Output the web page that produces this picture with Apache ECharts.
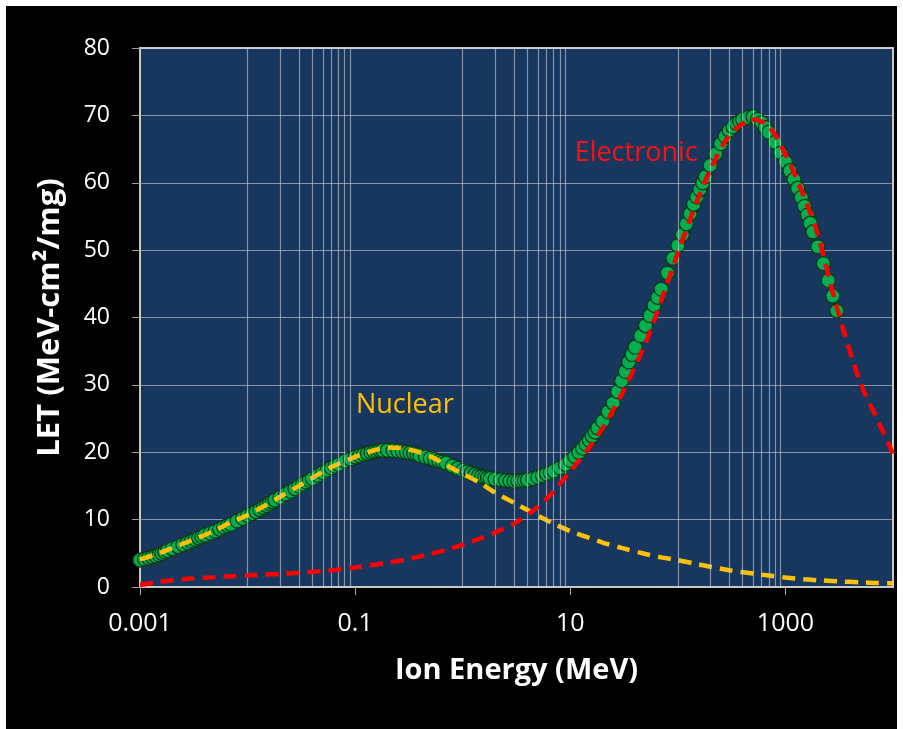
<!DOCTYPE html>
<html>
<head>
<meta charset="utf-8">
<script src="https://cdn.jsdelivr.net/npm/echarts@6/dist/echarts.min.js"></script>
<style>
  html, body { margin: 0; padding: 0; background: #ffffff; }
  #frame { position: absolute; left: 6px; top: 6px; width: 891px; height: 723px; background: #000000; }
  #chart { position: absolute; left: 0; top: 0; width: 903px; height: 729px; }
</style>
</head>
<body>
<div id="frame"></div>
<div id="chart"></div>
<script>
// ---- Data ----
// Total LET (green circles)
const totalEnergy = [
  0.001, 0.0011, 0.0012, 0.0013, 0.0014, 0.0015, 0.0016, 0.0017, 0.0018, 0.002, 0.00225, 0.0025, 0.00275, 0.003, 0.00325, 0.0035, 0.00375, 0.004, 0.0045, 0.005, 0.0055, 0.006, 0.0065, 0.007, 0.008, 0.009,
  0.01, 0.011, 0.012, 0.013, 0.014, 0.015, 0.016, 0.017, 0.018, 0.02, 0.0225, 0.025, 0.0275, 0.03, 0.0325, 0.035, 0.0375, 0.04, 0.045, 0.05, 0.055, 0.06, 0.065, 0.07, 0.08, 0.09,
  0.1, 0.11, 0.12, 0.13, 0.14, 0.15, 0.16, 0.17, 0.18, 0.2, 0.225, 0.25, 0.275, 0.3, 0.325, 0.35, 0.375, 0.4, 0.45, 0.5, 0.55, 0.6, 0.65, 0.7, 0.8, 0.9,
  1, 1.1, 1.2, 1.3, 1.4, 1.5, 1.6, 1.7, 1.8, 2, 2.25, 2.5, 2.75, 3, 3.25, 3.5, 3.75, 4, 4.5, 5, 5.5, 6, 6.5, 7, 8, 9,
  10, 11, 12, 13, 14, 15, 16, 17, 18, 20, 22.5, 25, 27.5, 30, 32.5, 35, 37.5, 40, 45, 50, 55, 60, 65, 70, 80, 90,
  100, 110, 120, 130, 140, 150, 160, 170, 180, 200, 225, 250, 275, 300, 325, 350, 375, 400, 450, 500, 550, 600, 650, 700, 800, 900,
  1000, 1100, 1200, 1300, 1400, 1500, 1600, 1700, 1800, 2000, 2250, 2500, 2750, 3000
];
const totalLET = [
  4.0, 4.15, 4.3, 4.45, 4.6, 4.8, 5.0, 5.2, 5.4, 5.7, 6.0, 6.3, 6.55, 6.8, 7.05, 7.3, 7.5, 7.7, 8.0, 8.3, 8.6, 8.9, 9.1, 9.3, 9.8, 10.2,
  10.6, 10.9, 11.2, 11.5, 11.8, 12.1, 12.4, 12.65, 12.9, 13.3, 13.8, 14.2, 14.6, 15.0, 15.3, 15.6, 15.85, 16.1, 16.6, 17.0, 17.35, 17.7, 17.95, 18.2, 18.7, 19.0,
  19.3, 19.5, 19.7, 19.85, 20.0, 20.1, 20.2, 20.25, 20.3, 20.3, 20.25, 20.2, 20.1, 20.0, 19.9, 19.8, 19.65, 19.5, 19.3, 19.1, 18.9, 18.7, 18.55, 18.4, 17.95, 17.6,
  17.3, 17.1, 16.9, 16.7, 16.5, 16.4, 16.3, 16.2, 16.1, 16.0, 15.9, 15.8, 15.75, 15.7, 15.75, 15.8, 15.85, 15.9, 16.1, 16.3, 16.55, 16.8, 17.0, 17.2, 17.7, 18.2,
  18.8, 19.4, 20.0, 20.6, 21.2, 21.8, 22.4, 23.0, 23.6, 24.6, 26.0, 27.3, 29.0, 30.6, 32.0, 33.4, 34.5, 35.6, 37.3, 38.8, 40.3, 41.8, 43.0, 44.2, 46.6, 48.8,
  50.7, 52.3, 53.9, 55.4, 56.8, 57.9, 59.0, 60.0, 60.9, 62.6, 64.3, 65.8, 66.9, 67.8, 68.3, 68.8, 69.1, 69.4, 69.7, 69.8, 69.4, 68.9, 68.2, 67.5, 66.0, 64.4,
  63.1, 61.8, 60.5, 59.2, 57.8, 56.5, 55.2, 54.0, 52.7, 50.5, 48.0, 45.5, 43.2, 41.0
];
// Nuclear LET (gold dashed)
const nuclearEnergy = [0.001, 0.0015, 0.002, 0.003, 0.005, 0.007, 0.01, 0.015, 0.02, 0.03, 0.05, 0.07, 0.1, 0.15, 0.2, 0.3, 0.5, 0.7, 1, 1.5, 2, 3, 5, 7, 10, 15, 20, 30, 50, 70, 100, 150, 200, 300, 500, 700, 1000, 1500, 2000, 3000, 5000, 7000, 10000];
const nuclearLET    = [4.1, 5.0, 5.8, 6.9, 8.4, 9.6, 10.7, 12.2, 13.4, 15.0, 17.1, 18.3, 19.3, 20.3, 20.7, 20.5, 19.4, 18.1, 16.8, 15.3, 14.0, 12.5, 10.6, 9.4, 8.3, 7.3, 6.6, 5.8, 4.9, 4.4, 4.0, 3.4, 3.0, 2.5, 2.0, 1.7, 1.4, 1.15, 1.0, 0.85, 0.7, 0.6, 0.55];
// Electronic LET (red dashed)
const electronicEnergy = [0.001, 0.0015, 0.002, 0.003, 0.005, 0.007, 0.01, 0.015, 0.02, 0.03, 0.05, 0.07, 0.1, 0.15, 0.2, 0.3, 0.5, 0.7, 1, 1.5, 2, 3, 5, 7, 10, 15, 20, 30, 50, 70, 100, 150, 200, 300, 500, 700, 1000, 1500, 2000, 3000, 5000, 7000, 10000];
const electronicLET    = [0.3, 0.75, 1.0, 1.25, 1.45, 1.6, 1.7, 1.85, 1.95, 2.1, 2.35, 2.6, 2.9, 3.3, 3.6, 4.1, 4.9, 5.5, 6.3, 7.3, 8.1, 9.4, 11.9, 14.2, 17.2, 20.7, 23.6, 28.6, 36.2, 42.5, 49.6, 57.2, 61.9, 67.0, 69.4, 68.4, 64.2, 57.8, 52.3, 41.5, 30.2, 25.2, 19.8];

// Axis ticks / labels
const xTickValues = [0.001, 0.1, 10, 1000];
const xGridValues = [0.01, 0.02, 0.03, 0.04, 0.05, 0.06, 0.07, 0.08, 0.09,
                     1, 2, 3, 4, 5, 6, 7, 8, 9,
                     100, 200, 300, 400, 500, 600, 700, 800, 900];
const yMin = 0, yMax = 80, yStep = 10;

// Annotations: [text, energy, LET]
const nuclearLabel = ['Nuclear', 0.29, 27.0];
const electronicLabel = ['Electronic', 41, 64.3];

const zip = (xs, ys) => xs.map((x, i) => [x, ys[i]]);

const FONT = '"Open Sans", "DejaVu Sans", sans-serif';
const gridColor = 'rgba(205,210,220,0.6)';

const chart = echarts.init(document.getElementById('chart'), null, { renderer: 'canvas' });
chart.setOption({
  backgroundColor: 'transparent',
  animation: false,
  grid: {
    left: 140, right: 10, top: 48, bottom: 142,
    show: true, backgroundColor: '#17375e', borderColor: '#c8c8c8', borderWidth: 2
  },
  xAxis: {
    type: 'log', logBase: 10, min: 0.001, max: 10000,
    name: 'Ion Energy (MeV)', nameLocation: 'middle', nameGap: 69,
    nameTextStyle: { color: '#ffffff', fontFamily: FONT, fontSize: 29, fontWeight: 'bold' },
    axisLine: { show: true, lineStyle: { color: '#c8c8c8', width: 2 } },
    axisTick: { show: true, inside: false, length: 8, lineStyle: { color: '#a0a0a0', width: 1 }, customValues: xTickValues },
    axisLabel: {
      color: '#ffffff', fontFamily: FONT, fontSize: 25, margin: 24,
      customValues: xTickValues,
      formatter: v => String(+Number(v).toPrecision(6))
    },
    splitLine: { show: false },
    minorTick: { show: false }, minorSplitLine: { show: false }
  },
  yAxis: {
    type: 'value', min: yMin, max: yMax, interval: yStep,
    name: 'LET (MeV-cm²/mg)', nameLocation: 'middle', nameGap: 74,
    nameTextStyle: { color: '#ffffff', fontFamily: FONT, fontSize: 31, fontWeight: 'bold' },
    axisLine: { show: true, lineStyle: { color: '#c8c8c8', width: 2 } },
    axisTick: { show: true, inside: false, length: 8, lineStyle: { color: '#a0a0a0', width: 1 } },
    axisLabel: { color: '#ffffff', fontFamily: FONT, fontSize: 23, margin: 30 },
    splitLine: { show: true, lineStyle: { color: gridColor, width: 1.2 } }
  },
  series: [
    {
      name: 'grid', type: 'line', data: [], z: 1, silent: true,
      markLine: {
        silent: true, symbol: ['none', 'none'], animation: false,
        label: { show: false },
        lineStyle: { color: gridColor, width: 1.2, type: 'solid' },
        data: xGridValues.map(v => ({ xAxis: v }))
      }
    },
    {
      name: 'Total', type: 'scatter', z: 3,
      data: zip(totalEnergy, totalLET),
      symbol: 'circle', symbolSize: 14,
      itemStyle: { color: '#00b050', borderColor: '#0c3a16', borderWidth: 1.3, opacity: 1 }
    },
    {
      name: 'Nuclear', type: 'line', z: 4, smooth: 0.3, showSymbol: false, symbol: 'none',
      data: zip(nuclearEnergy, nuclearLET),
      lineStyle: { color: '#ffc000', width: 4.5, type: [13, 8] },
      markPoint: {
        symbol: 'circle', symbolSize: 1, itemStyle: { color: 'rgba(0,0,0,0)' },
        label: { show: true, position: 'inside', formatter: nuclearLabel[0], color: '#ffc000', fontFamily: FONT, fontSize: 27 },
        data: [{ coord: [nuclearLabel[1], nuclearLabel[2]] }]
      }
    },
    {
      name: 'Electronic', type: 'line', z: 5, smooth: 0.3, showSymbol: false, symbol: 'none',
      data: zip(electronicEnergy, electronicLET),
      lineStyle: { color: '#ff0000', width: 4.5, type: [13, 8] },
      markPoint: {
        symbol: 'circle', symbolSize: 1, itemStyle: { color: 'rgba(0,0,0,0)' },
        label: { show: true, position: 'inside', formatter: electronicLabel[0], color: '#ff1010', fontFamily: FONT, fontSize: 27 },
        data: [{ coord: [electronicLabel[1], electronicLabel[2]] }]
      }
    }
  ]
});
</script>
</body>
</html>
